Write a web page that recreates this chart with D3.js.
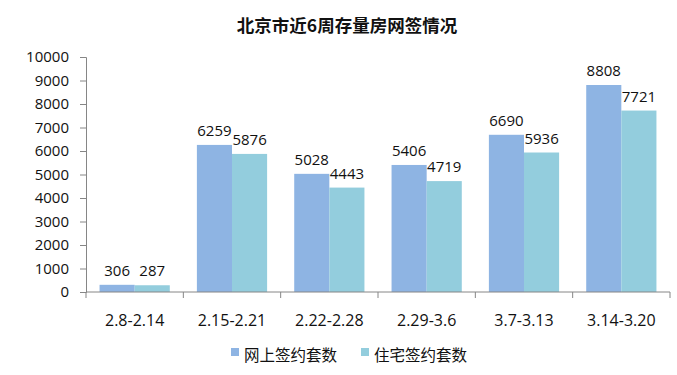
<!DOCTYPE html>
<html>
<head>
<meta charset="utf-8">
<script src="https://cdnjs.cloudflare.com/ajax/libs/d3/7.8.5/d3.min.js"></script>
<style>
  html, body { margin: 0; padding: 0; background: #fff; }
  svg text { font-family: "Open Sans", "Noto Sans CJK SC", sans-serif; fill: #111; }
  .title { font-family: "Noto Sans CJK SC", sans-serif; font-weight: bold; }
  .cjk { font-family: "Noto Sans CJK SC", sans-serif; }
</style>
</head>
<body>
<svg id="chart"></svg>
<script>
var categories = ['2.8-2.14', '2.15-2.21', '2.22-2.28', '2.29-3.6', '3.7-3.13', '3.14-3.20'];
var seriesNames = ['网上签约套数', '住宅签约套数'];
var online = [306, 6259, 5028, 5406, 6690, 8808];
var housing = [287, 5876, 4443, 4719, 5936, 7721];
var yTicks = [0, 1000, 2000, 3000, 4000, 5000, 6000, 7000, 8000, 9000, 10000];
var colors = ['#8eb4e3', '#93cddd'];

var width = 677, height = 375;
var margin = {left: 86, right: 7, top: 57, bottom: 83};

var svg = d3.select('#chart').attr('width', width).attr('height', height);

var x = d3.scaleBand()
    .domain(categories)
    .range([margin.left, width - margin.right]);

// two bars per week, no gap between them
var inner = d3.scaleBand()
    .domain([0, 1])
    .range([0, x.bandwidth()])
    .paddingOuter(0.386)
    .paddingInner(0);

var y = d3.scaleLinear()
    .domain([0, 10000])
    .range([height - margin.bottom, margin.top]);

// title
svg.append('text')
    .attr('class', 'title')
    .attr('x', 347).attr('y', 32)
    .attr('text-anchor', 'middle')
    .style('font-size', '17.5px')
    .text('北京市近6周存量房网签情况');

// bars
var groups = svg.selectAll('g.cat')
    .data(categories)
    .enter().append('g')
    .attr('class', 'cat')
    .attr('transform', function(d) { return 'translate(' + x(d) + ',0)'; });

[online, housing].forEach(function(series, s) {
    groups.append('rect')
        .attr('x', inner(s))
        .attr('width', inner.bandwidth())
        .attr('y', function(d, i) { return y(series[i]); })
        .attr('height', function(d, i) { return y(0) - y(series[i]); })
        .attr('fill', colors[s]);

    groups.append('text')
        .attr('x', inner(s) + inner.bandwidth() / 2)
        .attr('y', function(d, i) { return y(series[i]) - 9; })
        .attr('text-anchor', 'middle')
        .style('font-size', '15px')
        .text(function(d, i) { return series[i]; });
});

// y axis
var yAxis = svg.append('g')
    .attr('transform', 'translate(' + margin.left + ',0)')
    .call(d3.axisLeft(y).tickValues(yTicks).tickSize(6).tickPadding(11).tickFormat(d3.format('d')));
yAxis.select('.domain').attr('stroke', '#868686');
yAxis.selectAll('.tick line').attr('stroke', '#868686');
yAxis.selectAll('.tick text')
    .style('font-size', '15px')
    .style('font-family', '"Open Sans", sans-serif')
    .attr('fill', '#111');

// x axis with ticks at category boundaries
var xg = svg.append('g')
    .attr('transform', 'translate(0,' + y(0) + ')');
xg.append('line')
    .attr('x1', margin.left).attr('x2', width - margin.right)
    .attr('stroke', '#868686');
var bounds = categories.map(function(d) { return x(d); }).concat([x.range()[1]]);
xg.selectAll('line.b')
    .data(bounds)
    .enter().append('line')
    .attr('class', 'b')
    .attr('x1', function(d) { return d; }).attr('x2', function(d) { return d; })
    .attr('y1', 0).attr('y2', 6)
    .attr('stroke', '#868686');
xg.selectAll('text')
    .data(categories)
    .enter().append('text')
    .attr('x', function(d) { return x(d) + x.bandwidth() / 2; })
    .attr('y', 34)
    .attr('text-anchor', 'middle')
    .style('font-size', '16px')
    .text(function(d) { return d; });

// legend
var legendX = [231, 361];
var legend = svg.selectAll('g.legend')
    .data(seriesNames)
    .enter().append('g')
    .attr('class', 'legend')
    .attr('transform', function(d, i) { return 'translate(' + legendX[i] + ',356)'; });
legend.append('rect')
    .attr('x', 0).attr('y', -8)
    .attr('width', 8).attr('height', 8)
    .attr('fill', function(d, i) { return colors[i]; });
legend.append('text')
    .attr('class', 'cjk')
    .attr('x', 13).attr('y', 0)
    .attr('dy', '0.32em')
    .style('font-size', '15.5px')
    .text(function(d) { return d; });
</script>
</body>
</html>
